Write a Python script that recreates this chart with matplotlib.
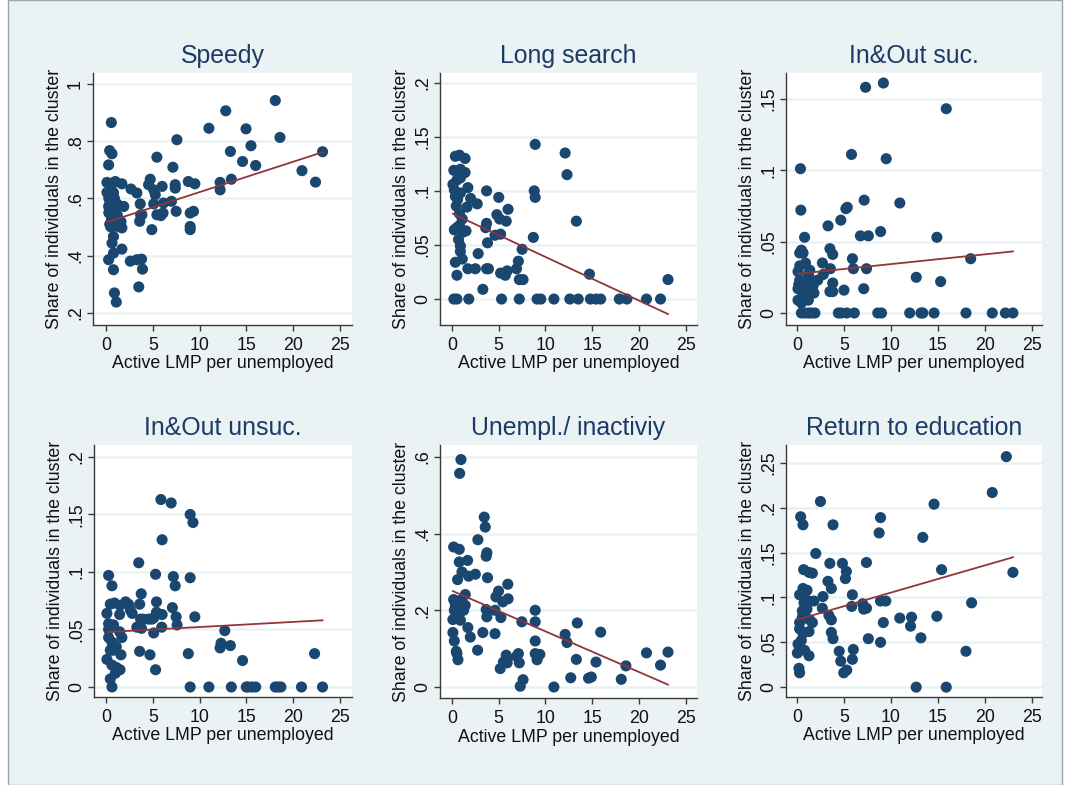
import matplotlib
matplotlib.use("Agg")
import matplotlib.pyplot as plt
import numpy as np
from matplotlib.patches import Rectangle

plt.rcParams['font.family'] = ['Liberation Sans', 'DejaVu Sans']

W, H = 1067, 785

# ---------------- data ----------------
titles = ["Speedy", "Long search", "In&Out suc.", "In&Out unsuc.",
          "Unempl./ inactiviy", "Return to education"]
xlabel = "Active LMP per unemployed"
ylabel = "Share of individuals in the cluster"
xticks = [0, 5, 10, 15, 20, 25]
xticklabels = ["0", "5", "10", "15", "20", "25"]

speedy_x = [0.57, 0.39, 0.64, 0.28, 0.10, 1.00, 1.70, 0.10, 0.28, 0.80, 1.90, 0.64, 1.35, 1.70,
            0.64, 0.80, 1.70, 0.80, 0.28, 0.80, 0.90, 1.10, 2.67, 3.30, 2.60, 3.30, 3.80, 3.90,
            3.50, 3.66, 3.84, 3.60, 4.73, 4.55, 5.44, 5.10, 5.27, 5.10, 4.90, 5.44, 5.87, 6.00,
            6.15, 6.10, 7.00, 7.15, 7.40, 7.40, 7.58, 7.50, 8.80, 9.00, 9.00, 9.00, 9.35, 9.50,
            11.0, 12.2, 12.2, 12.8, 13.3, 13.4, 14.6, 14.97, 15.5, 16.0, 18.1, 18.6, 20.95, 22.4,
            23.15, 0.85, 3.70, 1.20, 1.60, 0.50,
            0.2, 0.3, 0.4, 0.5, 0.6, 0.7, 0.8, 0.9, 1.0, 1.1, 0.3, 0.6, 1.3, 0.5, 0.9, 1.2, 0.4, 0.7]
speedy_y = [0.865, 0.767, 0.756, 0.717, 0.656, 0.659, 0.651, 0.621, 0.572, 0.566, 0.572, 0.508,
            0.502, 0.497, 0.444, 0.467, 0.423, 0.409, 0.386, 0.351, 0.270, 0.238, 0.633, 0.619,
            0.381, 0.386, 0.388, 0.353, 0.291, 0.581, 0.543, 0.520, 0.667, 0.648, 0.744, 0.630,
            0.613, 0.581, 0.491, 0.543, 0.540, 0.642, 0.584, 0.549, 0.590, 0.709, 0.648, 0.636,
            0.805, 0.555, 0.659, 0.549, 0.502, 0.491, 0.555, 0.651, 0.845, 0.656, 0.630, 0.906,
            0.764, 0.667, 0.729, 0.843, 0.784, 0.715, 0.942, 0.813, 0.697, 0.657, 0.763, 0.656,
            0.542, 0.542, 0.519, 0.501,
            0.62, 0.60, 0.58, 0.61, 0.59, 0.56, 0.62, 0.57, 0.55, 0.53, 0.55, 0.53, 0.51, 0.64,
            0.60, 0.58, 0.51, 0.50]

long_x = [8.9, 12.1, 12.3, 13.3, 14.7, 8.8, 8.9, 8.7, 23.1,
          0.2, 0.53, 1.8, 5.3, 7.2, 9.1, 9.5, 10.9, 12.6, 13.5, 14.8, 15.4, 15.9, 17.9, 18.7, 20.8, 22.3,
          0.36, 0.8, 1.4, 0.2, 0.9, 1.4, 1.7, 3.7, 5.0, 2.0, 2.7, 6.0, 1.6, 3.7, 3.6, 4.8, 5.1, 5.8,
          4.6, 5.2, 3.8, 2.8, 7.5, 7.1, 6.9, 7.6, 7.2, 5.9, 5.7, 5.2, 3.7, 3.9, 2.5, 1.7, 3.3, 1.1,
          0.36, 0.53,
          0.1, 0.36, 0.9, 0.8, 0.53, 0.25, 1.2, 1.5, 0.7, 0.9, 0.9, 0.8, 0.46, 1.1, 0.53, 0.9, 0.25, 0.6]
long_y = [0.143, 0.135, 0.115, 0.072, 0.023, 0.100, 0.094, 0.057, 0.018,
          0, 0, 0, 0, 0, 0, 0, 0, 0, 0, 0, 0, 0, 0, 0, 0, 0,
          0.132, 0.133, 0.130, 0.119, 0.120, 0.117, 0.103, 0.100, 0.094, 0.093, 0.088, 0.083, 0.085,
          0.070, 0.066, 0.078, 0.074, 0.072, 0.059, 0.060, 0.052, 0.042, 0.046, 0.035, 0.028, 0.018,
          0.018, 0.026, 0.022, 0.024, 0.028, 0.028, 0.028, 0.028, 0.009, 0.037, 0.034, 0.022,
          0.106, 0.095, 0.098, 0.068, 0.066, 0.064, 0.062, 0.063, 0.055, 0.049, 0.044, 0.079, 0.086,
          0.074, 0.110, 0.112, 0.101, 0.092]

insuc_x = [7.3, 9.2, 15.9, 5.8, 9.5, 0.36, 0.4, 7.15, 10.95, 5.2, 5.35, 4.66, 3.3, 0.8, 6.75, 7.6,
           8.9, 14.9, 0.46, 0.64, 0.28, 3.5, 3.8, 5.9, 18.5, 2.7, 0.9, 0.28, 1.35, 3.55, 6.0, 7.4,
           12.7, 15.3, 2.8, 2.2, 1.7, 3.8, 3.5, 3.8, 5.0, 7.1,
           0.1, 0.28, 0.57, 0.1, 0.64, 0.46, 0.1, 1.2, 1.0, 0.8, 1.35, 0.18, 1.8, 1.2,
           0.46, 0.8, 1.2, 1.5, 1.9, 4.4, 4.7, 5.3, 6.1, 8.6, 9.0, 12.0, 13.2, 13.4, 14.6, 18.0,
           20.8, 22.2, 23.0]
insuc_y = [0.158, 0.161, 0.143, 0.111, 0.108, 0.101, 0.072, 0.079, 0.077, 0.073, 0.074, 0.065,
           0.061, 0.053, 0.054, 0.054, 0.057, 0.053, 0.044, 0.042, 0.042, 0.045, 0.041, 0.038,
           0.038, 0.035, 0.035, 0.033, 0.030, 0.031, 0.031, 0.031, 0.025, 0.022, 0.027, 0.023,
           0.019, 0.021, 0.015, 0.015, 0.016, 0.017,
           0.029, 0.023, 0.021, 0.017, 0.014, 0.007, 0.009, 0.027, 0.016, 0.011, 0.024, 0.020,
           0.014, 0.009,
           0, 0, 0, 0, 0, 0, 0, 0, 0, 0, 0, 0, 0, 0, 0, 0, 0, 0, 0]

inunsuc_x = [5.87, 6.97, 9.0, 9.3, 6.0, 3.5, 0.28, 5.3, 0.64, 7.2, 7.4, 9.0, 3.77, 7.1, 3.6, 5.4,
             0.46, 0.9, 2.1, 2.4, 2.8, 2.6, 1.5, 0.1, 1.46, 3.7, 4.0, 4.55, 4.9, 5.1, 5.4, 6.0,
             5.96, 7.5, 7.6, 9.5, 3.3, 3.8, 5.1, 12.7, 12.2, 12.3, 13.3, 8.8, 3.6, 4.7, 14.6, 5.3,
             22.3,
             0.64, 9.0, 11.0, 13.4, 15.0, 15.2, 15.6, 16.0, 18.1, 18.4, 18.7, 20.9, 23.15,
             0.28, 0.8, 0.28, 0.46, 0.1, 0.8, 0.64, 1.1, 0.46, 1.0, 1.35, 1.6, 1.7, 1.46, 0.28,
             0.64, 1.1, 1.5]
inunsuc_y = [0.163, 0.160, 0.150, 0.143, 0.128, 0.108, 0.097, 0.098, 0.088, 0.096, 0.088, 0.095,
             0.081, 0.069, 0.072, 0.074, 0.072, 0.073, 0.074, 0.072, 0.064, 0.067, 0.071, 0.064,
             0.063, 0.059, 0.059, 0.059, 0.059, 0.060, 0.065, 0.063, 0.052, 0.061, 0.054, 0.061,
             0.052, 0.051, 0.047, 0.049, 0.034, 0.038, 0.036, 0.029, 0.031, 0.028, 0.023, 0.015,
             0.029,
             0, 0, 0, 0, 0, 0, 0, 0, 0, 0, 0, 0, 0,
             0.055, 0.054, 0.043, 0.032, 0.024, 0.032, 0.019, 0.017, 0.007, 0.012, 0.015, 0.028,
             0.043, 0.048, 0.050, 0.039, 0.035, 0.015]

unemp_x = [0.96, 0.82, 3.45, 3.56, 2.77, 0.18, 0.78, 3.73, 3.66, 0.78, 1.67, 1.07, 2.5, 1.78, 3.8,
           0.6, 5.97, 4.98, 4.7, 6.0, 5.44, 1.42, 4.6, 3.66, 3.73, 5.23, 8.9, 8.9, 7.47, 12.1, 12.3,
           13.4, 15.9, 1.7, 1.96, 3.3, 4.6, 8.9, 2.74, 8.9, 9.4, 9.1, 7.1, 6.9, 7.2, 5.8, 5.87, 5.5,
           5.16, 5.9, 13.3, 15.4, 20.8, 23.1, 22.3, 18.6, 12.7, 14.6, 14.9, 18.1, 7.6, 7.3, 10.9,
           0.18, 0.25, 0.1, 0.1, 0.25, 0.46, 0.53, 0.64, 0.36, 0.9, 1.07, 0.7, 0.9, 1.25, 1.42, 0.53]
unemp_y = [0.593, 0.557, 0.443, 0.417, 0.384, 0.365, 0.359, 0.350, 0.341, 0.326, 0.330, 0.300,
           0.294, 0.289, 0.285, 0.280, 0.268, 0.250, 0.235, 0.230, 0.222, 0.241, 0.200, 0.202,
           0.183, 0.181, 0.200, 0.170, 0.170, 0.137, 0.116, 0.167, 0.143, 0.155, 0.130, 0.142,
           0.139, 0.120, 0.096, 0.087, 0.085, 0.071, 0.087, 0.080, 0.063, 0.083, 0.070, 0.065,
           0.048, 0.063, 0.072, 0.065, 0.089, 0.091, 0.057, 0.055, 0.024, 0.023, 0.026, 0.020,
           0.019, 0.002, 0.0,
           0.228, 0.200, 0.176, 0.142, 0.120, 0.093, 0.087, 0.071, 0.213, 0.226, 0.209, 0.191,
           0.174, 0.200, 0.213, 0.183]

educ_x = [22.3, 20.8, 14.6, 2.5, 0.39, 0.64, 8.9, 8.75, 3.84, 13.4, 2.0, 15.4, 23.0, 3.5, 4.84,
          7.4, 0.71, 1.28, 1.64, 5.26, 5.16, 3.3, 3.66, 0.64, 0.28, 1.07, 2.77, 5.9, 2.7, 1.8,
          5.83, 7.0, 7.1, 7.4, 8.9, 9.46, 18.6, 3.4, 3.66, 10.95, 12.2, 12.1, 14.9, 9.2, 3.66,
          3.84, 7.6, 8.9, 13.2, 4.5, 6.0, 5.9, 4.66, 18.0, 4.98, 5.3, 12.7, 15.9,
          0.21, 0.28, 0.04, 0.11, 0.28, 0.57, 0.82, 1.35, 1.64, 1.28, 0.64, 0.46, 0.82, 0.28,
          1.28, 0.75, 1.07, 0.57, 1.07, 0.28]
educ_y = [0.257, 0.217, 0.204, 0.207, 0.190, 0.181, 0.189, 0.172, 0.181, 0.167, 0.149, 0.131,
          0.128, 0.138, 0.138, 0.139, 0.131, 0.128, 0.127, 0.129, 0.121, 0.118, 0.110, 0.110,
          0.103, 0.108, 0.101, 0.103, 0.088, 0.096, 0.090, 0.093, 0.087, 0.088, 0.096, 0.096,
          0.094, 0.080, 0.075, 0.077, 0.078, 0.068, 0.079, 0.072, 0.061, 0.054, 0.054, 0.050,
          0.055, 0.040, 0.042, 0.031, 0.029, 0.040, 0.016, 0.019, 0.0, 0.0,
          0.021, 0.016, 0.038, 0.048, 0.072, 0.078, 0.083, 0.075, 0.072, 0.062, 0.060, 0.052,
          0.041, 0.042, 0.035, 0.094, 0.097, 0.085, 0.087, 0.065]

# linear fit (intercept, slope)
fit_params = [(0.516, 0.0106), (0.0792, -0.00403), (0.0274, 0.000683),
              (0.0477, 0.000444), (0.251, -0.0106), (0.0751, 0.00303)]

yticks_list = [[0.2, 0.4, 0.6, 0.8, 1.0], [0, 0.05, 0.1, 0.15, 0.2], [0, 0.05, 0.1, 0.15],
               [0, 0.05, 0.1, 0.15, 0.2], [0, 0.2, 0.4, 0.6], [0, 0.05, 0.1, 0.15, 0.2, 0.25]]
yticklabels_list = [[".2", ".4", ".6", ".8", "1"], ["0", ".05", ".1", ".15", ".2"],
                    ["0", ".05", ".1", ".15"], ["0", ".05", ".1", ".15", ".2"],
                    ["0", ".2", ".4", ".6"], ["0", ".05", ".1", ".15", ".2", ".25"]]
ylims = [(0.158, 1.038), (-0.024, 0.209), (-0.0084, 0.168),
         (-0.0087, 0.2104), (-0.0287, 0.631), (-0.011, 0.270)]
xlims = [(-1.39, 26.3), (-1.28, 26.2), (-1.18, 26.1),
         (-1.28, 26.3), (-1.28, 26.2), (-1.17, 26.1)]

xs = [speedy_x, long_x, insuc_x, inunsuc_x, unemp_x, educ_x]
ys = [speedy_y, long_y, insuc_y, inunsuc_y, unemp_y, educ_y]

# ---------------- layout (pixels) ----------------
boxes = [(93, 73, 352, 325), (440, 73, 697, 325), (786, 73, 1042, 325),
         (94, 445, 352, 697), (440, 445, 697, 698), (786, 445, 1042, 697)]

BG = "#eaf2f3"
NAVY = "#1a476f"
MAROON = "#90353b"
TITLE_C = "#1c3a68"

fig = plt.figure(figsize=(W / 100, H / 100), dpi=100, facecolor="white")
fig.patches.append(Rectangle((8 / W, 0), (1062 - 8) / W, 1, transform=fig.transFigure,
                             facecolor=BG, edgecolor="#9aa6ad", linewidth=1.0, zorder=-10))

for i in range(6):
    l, t, r, b = boxes[i]
    ax = fig.add_axes([l / W, 1 - b / H, (r - l) / W, (b - t) / H])
    ax.set_facecolor("white")
    ax.set_xlim(*xlims[i])
    ax.set_ylim(*ylims[i])
    for yv in yticks_list[i]:
        ax.axhline(yv, color=BG, lw=1.8, zorder=0)
    ax.scatter(xs[i], ys[i], s=64, color=NAVY, edgecolors="none", zorder=3)
    a, bslope = fit_params[i]
    xx = np.array([min(xs[i]), max(xs[i])])
    ax.plot(xx, a + bslope * xx, color=MAROON, lw=1.3, zorder=4)

    for sp in ["top", "right"]:
        ax.spines[sp].set_visible(False)
    for sp in ["left", "bottom"]:
        ax.spines[sp].set_color("#3a3a3a")
        ax.spines[sp].set_linewidth(1.0)
    ax.set_xticks(xticks)
    ax.set_xticklabels(xticklabels)
    ax.set_yticks(yticks_list[i])
    ax.set_yticklabels(yticklabels_list[i], rotation=90, va="center")
    ax.tick_params(axis="x", direction="out", length=4.5, width=1.0, color="#3a3a3a",
                   labelsize=12.8, labelcolor="#111111", pad=4)
    ax.tick_params(axis="y", direction="out", length=4.5, width=1.0, color="#3a3a3a",
                   labelsize=12.8, labelcolor="#111111", pad=2)
    ax.set_xlabel(xlabel, fontsize=12.8, color="#111111")
    ax.set_ylabel(ylabel, fontsize=12.8, color="#111111")
    ax.xaxis.set_label_coords(0.5, -39 / (b - t))
    ax.xaxis.label.set_va("center")
    ax.yaxis.set_label_coords(-38 / (r - l), 0.5)
    ax.yaxis.label.set_va("center")
    ax.set_title(titles[i], fontsize=17.9, color=TITLE_C, pad=7)

fig.savefig("out.png", dpi=100, facecolor=fig.get_facecolor())
